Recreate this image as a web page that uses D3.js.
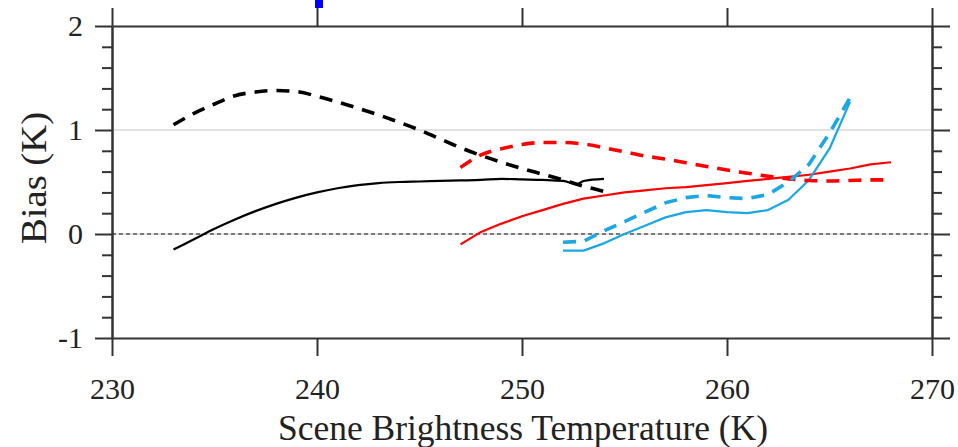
<!DOCTYPE html>
<html>
<head>
<meta charset="utf-8">
<script src="https://cdn.jsdelivr.net/npm/d3@7"></script>
<style>
  html, body { margin: 0; padding: 0; background: #fff; }
  svg { display: block; }
</style>
</head>
<body>
<svg id="chart" width="958" height="447"></svg>
<script>
// Scene brightness temperature (K) and bias (K) for each curve
const tempBlackDash = [233,234,235,236,237,238,239,240,241,242,243,244,245,246,247,248,249,250,251,252,253,254];
const biasBlackDash = [1.05,1.16,1.25,1.33,1.365,1.38,1.37,1.325,1.27,1.21,1.145,1.075,1.00,0.915,0.83,0.755,0.69,0.63,0.575,0.52,0.46,0.41];

const tempBlackSolid = [233,234,235,236,237,238,239,240,241,242,243,244,245,246,247,248,249,250,251,252,252.7,253,254];
const biasBlackSolid = [-0.15,-0.05,0.05,0.14,0.22,0.29,0.35,0.40,0.44,0.47,0.49,0.50,0.505,0.51,0.515,0.52,0.53,0.525,0.52,0.51,0.48,0.51,0.53];

const tempRedDash = [247,248,249,250,251,252,253,254,255,256,257,258,259,260,261,262,263,264,265,266,267,268];
const biasRedDash = [0.64,0.76,0.82,0.86,0.88,0.88,0.865,0.83,0.79,0.75,0.72,0.685,0.65,0.615,0.585,0.555,0.53,0.515,0.51,0.515,0.52,0.52];

const tempRedSolid = [247,248,249,250,251,252,253,254,255,256,257,258,259,260,261,262,263,264,265,266,267,268];
const biasRedSolid = [-0.10,0.02,0.10,0.17,0.23,0.29,0.34,0.37,0.40,0.42,0.44,0.45,0.47,0.49,0.51,0.53,0.55,0.57,0.60,0.63,0.67,0.69];

const tempBlueDash = [252,253,254,255,256,257,258,259,260,261,262,263,264,265,266];
const biasBlueDash = [-0.08,-0.07,0.03,0.12,0.21,0.30,0.35,0.37,0.35,0.34,0.38,0.50,0.67,0.97,1.31];

const tempBlueSolid = [252,253,254,255,256,257,258,259,260,261,262,263,264,265,266];
const biasBlueSolid = [-0.16,-0.16,-0.09,0.00,0.08,0.16,0.21,0.23,0.21,0.20,0.23,0.33,0.52,0.82,1.27];

const xTicks = [230,240,250,260,270];
const yTicks = [-1,0,1,2];
const xTitle = "Scene Brightness Temperature (K)";
const yTitle = "Bias (K)";

const serif = "'Liberation Serif', 'Times New Roman', serif";
const svg = d3.select("#chart");
const plotLeft = 112, plotRight = 932, plotTop = 26, plotBottom = 338;
const x = d3.scaleLinear().domain([230, 270]).range([plotLeft, plotRight]);
const y = d3.scaleLinear().domain([-1, 2]).range([plotBottom, plotTop]);
const axisColor = "#333";
const minorTicks = d3.range(-1, 2.001, 0.2).map(v => +v.toFixed(1)).filter(v => !yTicks.includes(v));
const plainFormat = d => String(d); // hyphen-minus for negatives

// light reference lines at the interior major ticks
svg.append("g").selectAll("line").data([0, 1]).join("line")
  .attr("x1", plotLeft).attr("x2", plotRight)
  .attr("y1", d => y(d)).attr("y2", d => y(d))
  .attr("stroke", "#e2e2e2").attr("stroke-width", 2);

// dashed zero line
svg.append("line")
  .attr("x1", plotLeft).attr("x2", plotRight).attr("y1", y(0)).attr("y2", y(0))
  .attr("stroke", "#111").attr("stroke-width", 1).attr("stroke-dasharray", "4,3");

function styleAxis(g) {
  g.attr("font-family", serif).attr("font-size", 30);
  g.selectAll("path.domain").attr("stroke", axisColor).attr("stroke-width", 2);
  g.selectAll(".tick line").attr("stroke", axisColor).attr("stroke-width", 2);
  g.selectAll(".tick text").attr("fill", "#222");
}

// bottom axis with labels
const gx = svg.append("g").attr("transform", `translate(0,${plotBottom})`)
  .call(d3.axisBottom(x).tickValues(xTicks).tickSize(18).tickSizeOuter(0).tickPadding(22).tickFormat(plainFormat));
styleAxis(gx);

// top axis, ticks only
const gxt = svg.append("g").attr("transform", `translate(0,${plotTop})`)
  .call(d3.axisTop(x).tickValues(xTicks).tickSize(18).tickSizeOuter(0).tickFormat(""));
styleAxis(gxt);

// left axis: major with labels, minor without
const gyMinor = svg.append("g").attr("transform", `translate(${plotLeft},0)`)
  .call(d3.axisLeft(y).tickValues(minorTicks).tickSize(10).tickSizeOuter(0).tickFormat(""));
styleAxis(gyMinor);
const gy = svg.append("g").attr("transform", `translate(${plotLeft},0)`)
  .call(d3.axisLeft(y).tickValues(yTicks).tickSize(17).tickSizeOuter(0).tickPadding(12).tickFormat(plainFormat));
styleAxis(gy);

// right axis, ticks only
const gyrMinor = svg.append("g").attr("transform", `translate(${plotRight},0)`)
  .call(d3.axisRight(y).tickValues(minorTicks).tickSize(10).tickSizeOuter(0).tickFormat(""));
styleAxis(gyrMinor);
const gyr = svg.append("g").attr("transform", `translate(${plotRight},0)`)
  .call(d3.axisRight(y).tickValues(yTicks).tickSize(18).tickSizeOuter(0).tickFormat(""));
styleAxis(gyr);

// axis titles
svg.append("text")
  .attr("x", 523).attr("y", 440)
  .attr("text-anchor", "middle")
  .attr("font-family", serif).attr("font-size", 35).attr("fill", "#222")
  .attr("textLength", 490).attr("lengthAdjust", "spacingAndGlyphs")
  .text(xTitle);
svg.append("text")
  .attr("transform", "translate(46,178) rotate(-90)")
  .attr("text-anchor", "middle")
  .attr("font-family", serif).attr("font-size", 35).attr("fill", "#222")
  .attr("textLength", 132).attr("lengthAdjust", "spacingAndGlyphs")
  .text(yTitle);

// curves: smooth black and red-dashed fits, piecewise segments elsewhere
const smooth = d3.line().x(d => x(d[0])).y(d => y(d[1])).curve(d3.curveMonotoneX);
const straight = d3.line().x(d => x(d[0])).y(d => y(d[1])).curve(d3.curveLinear);
const curves = [
  { t: tempBlackSolid, b: biasBlackSolid, color: "#000", w: 2.2, dash: null, gen: smooth },
  { t: tempRedSolid, b: biasRedSolid, color: "#ff0000", w: 2.2, dash: null, gen: straight },
  { t: tempBlueSolid, b: biasBlueSolid, color: "#1ba6e4", w: 2.2, dash: null, gen: straight },
  { t: tempBlackDash, b: biasBlackDash, color: "#000", w: 3.6, dash: "13,9", gen: smooth },
  { t: tempRedDash, b: biasRedDash, color: "#ff0000", w: 3.6, dash: "13,9", gen: smooth },
  { t: tempBlueDash, b: biasBlueDash, color: "#1ba6e4", w: 3.6, dash: "13,9", gen: straight }
];
svg.append("g").selectAll("path").data(curves).join("path")
  .attr("d", c => c.gen(c.t.map((v, i) => [v, c.b[i]])))
  .attr("fill", "none")
  .attr("stroke", c => c.color)
  .attr("stroke-width", c => c.w)
  .attr("stroke-linejoin", "round")
  .attr("stroke-dasharray", c => c.dash);

// small blue marker at the top edge
svg.append("rect").attr("x", x(240) - 2).attr("y", 0).attr("width", 8).attr("height", 8).attr("fill", "#0000ff");
</script>
</body>
</html>
